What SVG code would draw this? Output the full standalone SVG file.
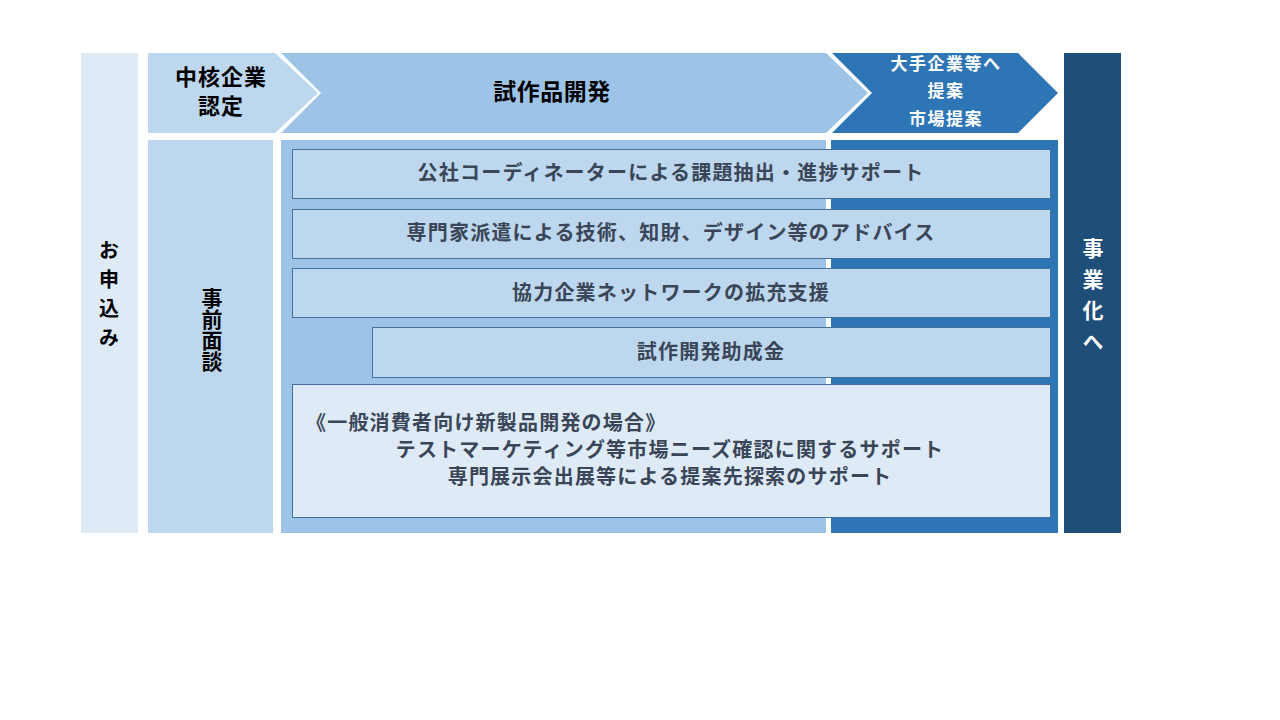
<svg xmlns="http://www.w3.org/2000/svg" width="1280" height="720" viewBox="0 0 1280 720">
<style>
.t{font-family:"Noto Sans CJK JP","Noto Sans CJK SC",sans-serif;font-weight:bold;}
.v{writing-mode:vertical-rl;text-anchor:start;}
.bx{stroke:#41719C;stroke-width:1;}
.bt{font-size:20px;fill:#3A4657;letter-spacing:1.2px;text-anchor:middle;}
.hd{fill:#000;text-anchor:middle;}
.wt{fill:#fff;text-anchor:middle;}
</style>
<rect width="1280" height="720" fill="#fff"/>
<g id="apply">
<rect x="81" y="53" width="57" height="480" fill="#DEEBF7"/>
<text class="t v" x="109" y="240" style="font-size:20px;fill:#000;letter-spacing:9px">お申込み</text>
</g>
<g id="interview">
<rect x="148" y="140" width="125" height="393" fill="#BDD7EE"/>
<text class="t v" x="212" y="288" style="font-size:21px;fill:#000">事前面談</text>
</g>
<g id="cert">
<polygon points="148,53 275,53 318,93 275,133 148,133" fill="#BDD7EE"/>
<text class="t hd" style="font-size:22px;letter-spacing:1px"><tspan x="221" y="85">中核企業</tspan><tspan x="221" y="114">認定</tspan></text>
</g>
<g id="proto">
<polygon points="281,53 826,53 868,93 826,133 281,133 321,93" fill="#9DC3E6"/>
<text class="t hd" x="552" y="100" style="font-size:23px;letter-spacing:0.5px">試作品開発</text>
</g>
<g id="propose">
<polygon points="832,53 1018,53 1058,93 1018,133 832,133 872,93" fill="#2E75B6"/>
<text class="t wt" style="font-size:17px;letter-spacing:1.5px"><tspan x="946" y="70">大手企業等へ</tspan><tspan x="946" y="97">提案</tspan><tspan x="946" y="125">市場提案</tspan></text>
</g>
<g id="bizcol">
<rect x="1064" y="53" width="57" height="480" fill="#1F4E79"/>
<text class="t v" x="1093" y="238" style="font-size:21px;fill:#fff;letter-spacing:10px">事業化へ</text>
</g>
<g id="bg">
<rect x="281" y="140" width="545" height="393" fill="#9DC3E6"/>
<rect x="831" y="140" width="227" height="393" fill="#2E75B6"/>
</g>
<g id="box1">
<rect class="bx" x="292.5" y="149.5" width="758" height="49" fill="#BDD7EE"/>
<text class="t bt" x="671" y="180">公社コーディネーターによる課題抽出・進捗サポート</text>
</g>
<g id="box2">
<rect class="bx" x="292.5" y="209.5" width="758" height="49" fill="#BDD7EE"/>
<text class="t bt" x="671" y="240">専門家派遣による技術、知財、デザイン等のアドバイス</text>
</g>
<g id="box3">
<rect class="bx" x="292.5" y="268.5" width="758" height="49" fill="#BDD7EE"/>
<text class="t bt" x="671" y="300">協力企業ネットワークの拡充支援</text>
</g>
<g id="box4">
<rect class="bx" x="372.5" y="327.5" width="678" height="50" fill="#BDD7EE"/>
<text class="t bt" x="711" y="359">試作開発助成金</text>
</g>
<g id="box5">
<rect class="bx" x="292.5" y="384.5" width="758" height="133" fill="#DEEBF7"/>
<text class="t bt" x="306" y="430" style="text-anchor:start">《一般消費者向け新製品開発の場合》</text>
<text class="t bt" x="670" y="457">テストマーケティング等市場ニーズ確認に関するサポート</text>
<text class="t bt" x="670" y="484">専門展示会出展等による提案先探索のサポート</text>
</g>
<g id="connectors"></g>
</svg>
